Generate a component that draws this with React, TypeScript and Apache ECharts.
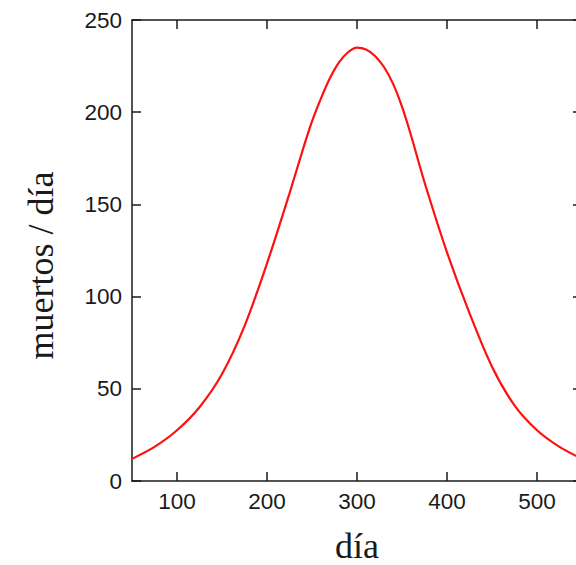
import React, { useEffect, useRef } from "react";
import * as echarts from "echarts";

const days = [50, 75, 100, 125, 150, 175, 200, 225, 240, 250, 260, 270, 280, 290, 300, 310, 320, 330, 340, 350, 360, 375, 400, 425, 450, 475, 500, 525, 550];
const deaths = [12, 18.5, 27.5, 40, 58, 84, 118, 156, 180, 195, 207.5, 218.5, 227, 232.5, 235, 234, 230.5, 224.5, 215.5, 203, 187.5, 162, 124, 91, 62, 41, 27.5, 18.5, 12];
const xTicks = [100, 200, 300, 400, 500];
const yTicks = [0, 50, 100, 150, 200, 250];
const xLabel = "día";
const yLabel = "muertos / día";

export default function App() {
  const ref = useRef<HTMLDivElement>(null);
  useEffect(() => {
    if (!ref.current) return;
    const chart = echarts.init(ref.current, null, { renderer: "svg" });
    const axisLine = { show: true, onZero: false, lineStyle: { color: "#1a1a1a", width: 1.5 } };
    const tick = { show: true, inside: true, length: 9, lineStyle: { color: "#1a1a1a", width: 1.5 } };
    const labelStyle = { fontFamily: "Liberation Sans, Arial, sans-serif", fontSize: 22.5, color: "#1a1a1a" };
    const nameStyle = { fontFamily: "Liberation Serif, Times New Roman, serif", fontSize: 36, color: "#1a1a1a" };
    chart.setOption({
      animation: false,
      backgroundColor: "#ffffff",
      grid: { left: 132, top: 20, width: 450, height: 461, containLabel: false, outerBoundsMode: "none" },
      xAxis: [
        {
          type: "value",
          min: 50,
          max: 550,
          position: "bottom",
          axisLine,
          axisTick: { ...tick, customValues: xTicks },
          splitLine: { show: false },
          axisLabel: { ...labelStyle, margin: 9, customValues: xTicks },
          name: xLabel,
          nameLocation: "middle",
          nameGap: 51,
          nameTextStyle: { ...nameStyle, lineHeight: 28 },
        },
        {
          type: "value",
          min: 50,
          max: 550,
          position: "top",
          axisLine,
          axisTick: { ...tick, customValues: xTicks },
          axisLabel: { show: false, customValues: xTicks },
          splitLine: { show: false },
        },
      ],
      yAxis: [
        {
          type: "value",
          min: yTicks[0],
          max: yTicks[yTicks.length - 1],
          interval: 50,
          position: "left",
          axisLine,
          axisTick: tick,
          splitLine: { show: false },
          axisLabel: { ...labelStyle, margin: 10 },
          name: yLabel,
          nameLocation: "middle",
          nameGap: 73,
          nameTextStyle: { ...nameStyle, padding: [0, 30, 0, 0] },
        },
        {
          type: "value",
          min: 0,
          max: 250,
          interval: 50,
          position: "right",
          axisLine,
          axisTick: tick,
          axisLabel: { show: false },
          splitLine: { show: false },
        },
      ],
      series: [
        {
          type: "line",
          data: days.map((d, i) => [d, deaths[i]]),
          smooth: 0.3,
          showSymbol: false,
          lineStyle: { color: "#ff1010", width: 2.2 },
          clip: true,
        },
      ],
    });
    return () => chart.dispose();
  }, []);
  return <div ref={ref} style={{ position: "fixed", left: 0, top: 0, width: 576, height: 565 }} />;
}
